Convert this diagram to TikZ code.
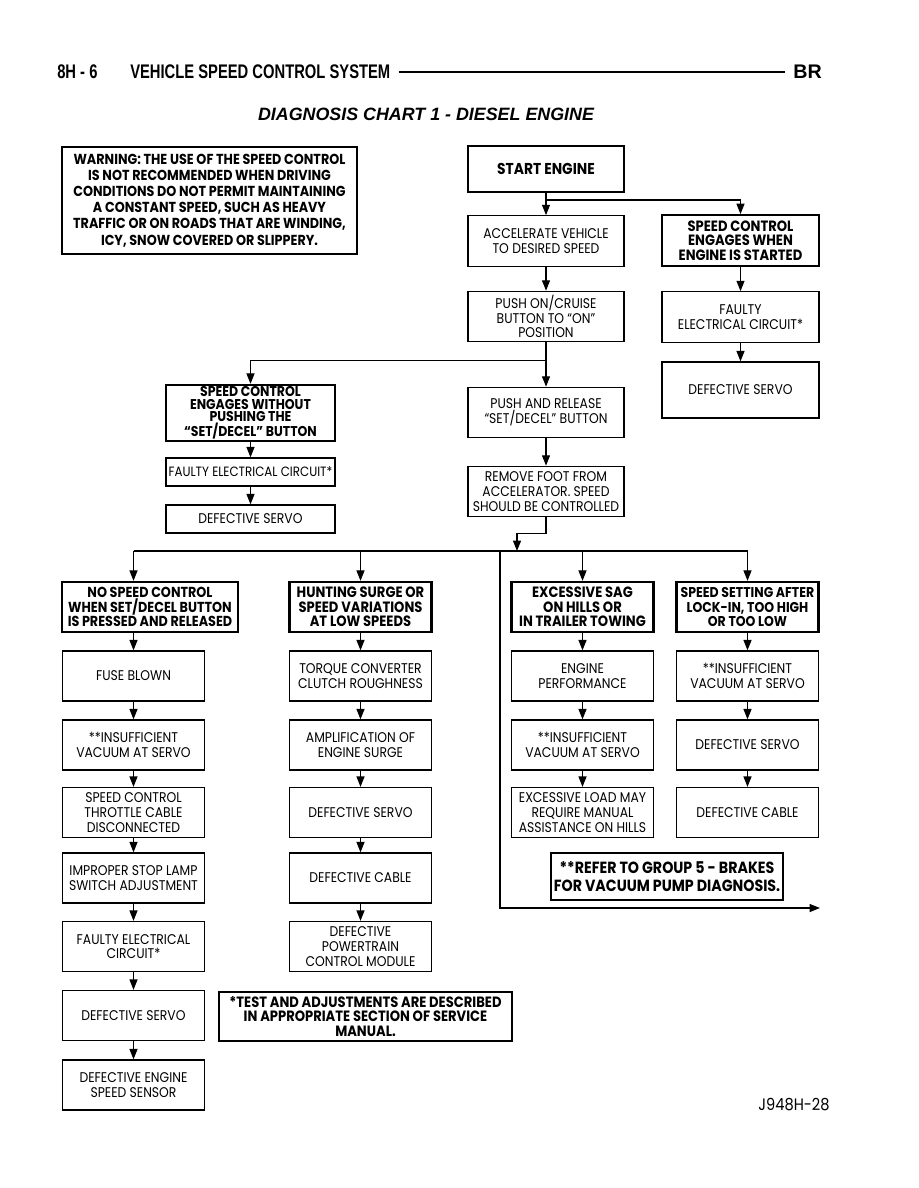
\documentclass[tikz,border=0pt]{standalone}
\usepackage{fontspec}
\setmainfont{Poppins}[FakeStretch=0.88]
\newfontfamily\headfont{Liberation Sans}[FakeStretch=0.75]
\newfontfamily\titlefont{Liberation Sans}
\usepackage{tikz}
\usetikzlibrary{positioning,arrows.meta,calc}
\tikzset{
  cause/.style  ={draw, line width=0.9pt, align=center, inner sep=0.5pt,
                  font=\fontsize{10}{10.4}\selectfont},
  symptom/.style={cause, line width=1.7pt, font=\bfseries\fontsize{10.6}{10.4}\selectfont},
  colbox/.style ={minimum width=35.5mm, minimum height=12.5mm},
  topbox/.style ={minimum width=39mm, minimum height=12.6mm},
  arr/.style    ={-{Triangle[length=2.6mm,width=2mm]}, line width=0.8pt},
  link/.style   ={line width=0.8pt},
}
\begin{document}
\begin{tikzpicture}[x=0.25mm,y=-0.25mm]
  \useasboundingbox (0,0) rectangle (918,1188);
  % --- page header ---
  \node[anchor=west,inner sep=0pt,font=\headfont\bfseries\fontsize{14}{15}\selectfont] (sec) at (57,72) {8H~-~6};
  \node[anchor=west,inner sep=0pt,font=\headfont\bfseries\fontsize{14}{15}\selectfont] (hdr) at (130,72) {VEHICLE SPEED CONTROL SYSTEM};
  \node[anchor=east,inner sep=0pt,font=\titlefont\bfseries\fontsize{14}{15}\selectfont] (br) at (822,72) {BR};
  \draw[line width=1.3pt,shorten <=2mm,shorten >=2mm] (hdr.east) -- (br.west);
  \node[font=\titlefont\bfseries\itshape\fontsize{12.7}{14}\selectfont] (title) at (426,114) {DIAGNOSIS CHART 1 - DIESEL ENGINE};
  % --- warning ---
  \node[cause,line width=1.1pt,font=\bfseries\fontsize{10.3}{11.5}\selectfont,minimum width=73.75mm,minimum height=26.75mm] (warn) at (209.5,200.5)
    {WARNING: THE USE OF THE SPEED CONTROL\\IS NOT RECOMMENDED WHEN DRIVING\\CONDITIONS DO NOT PERMIT MAINTAINING\\A CONSTANT SPEED, SUCH AS HEAVY\\TRAFFIC OR ON ROADS THAT ARE WINDING,\\ICY, SNOW COVERED OR SLIPPERY.};
  % --- top of chart ---
  \node[symptom,line width=1.4pt,font=\bfseries\fontsize{11.2}{12}\selectfont,minimum width=39mm,minimum height=11.5mm] (start) at (546,169) {START ENGINE};
  \node[cause,topbox] (accel) at (546,241) {ACCELERATE VEHICLE\\TO DESIRED SPEED};
  \node[cause,topbox] (pushon) at (546,316.5) {PUSH ON/CRUISE\\BUTTON TO ``ON''\\POSITION};
  \node[cause,topbox] (pushrel) at (546,412.5) {PUSH AND RELEASE\\``SET/DECEL'' BUTTON};
  \node[cause,topbox] (remove) at (546,491.5) {REMOVE FOOT FROM\\ACCELERATOR. SPEED\\SHOULD BE CONTROLLED};
  \node[symptom,topbox,minimum width=39.25mm] (engstart) at (740.5,240.5) {SPEED CONTROL\\ENGAGES WHEN\\ENGINE IS STARTED};
  \node[cause,topbox,minimum width=39.25mm] (faulty1) at (740.5,317) {FAULTY\\ELECTRICAL CIRCUIT*};
  \node[cause,minimum width=39.25mm,minimum height=14mm] (servo1) at (740.5,390) {DEFECTIVE SERVO};
  \node[symptom,font=\bfseries\fontsize{10.1}{8.9}\selectfont,minimum width=42.25mm,minimum height=14mm] (without) at (250.5,413) {SPEED CONTROL\\ENGAGES WITHOUT\\PUSHING THE\\``SET/DECEL'' BUTTON};
  \node[cause,font=\fontsize{9.6}{10.4}\selectfont,minimum width=42.25mm,minimum height=7mm] (faulty2) at (250.5,472) {FAULTY ELECTRICAL CIRCUIT*};
  \node[cause,minimum width=42.25mm,minimum height=7mm] (servo2) at (250.5,519) {DEFECTIVE SERVO};
  % --- four symptoms ---
  \node[symptom,font=\bfseries\fontsize{10.3}{10.4}\selectfont,minimum width=44mm,minimum height=12.5mm] (nospeed) at (150,607) {NO SPEED CONTROL\\WHEN SET/DECEL BUTTON\\IS PRESSED AND RELEASED};
  \node[symptom,colbox] (hunting) at (360.5,607) {HUNTING SURGE OR\\SPEED VARIATIONS\\AT LOW SPEEDS};
  \node[symptom,colbox] (sag) at (582.5,607) {EXCESSIVE SAG\\ON HILLS OR\\IN TRAILER TOWING};
  \node[symptom,colbox,font=\bfseries\fontsize{10.1}{10.4}\selectfont] (setting) at (747.5,607) {SPEED SETTING AFTER\\LOCK-IN, TOO HIGH\\OR TOO LOW};
  % column 1
  \node[cause,colbox] (fuse) at (133.5,676) {FUSE BLOWN};
  \node[cause,colbox] (insuf1) at (133.5,745) {**INSUFFICIENT\\VACUUM AT SERVO};
  \node[cause,colbox] (throttle) at (133.5,812.5) {SPEED CONTROL\\THROTTLE CABLE\\DISCONNECTED};
  \node[cause,colbox] (stoplamp) at (133.5,878) {IMPROPER STOP LAMP\\SWITCH ADJUSTMENT};
  \node[cause,colbox] (faulty3) at (133.5,946.5) {FAULTY ELECTRICAL\\CIRCUIT*};
  \node[cause,colbox] (servo3) at (133.5,1015.5) {DEFECTIVE SERVO};
  \node[cause,colbox] (sensor) at (133.5,1085) {DEFECTIVE ENGINE\\SPEED SENSOR};
  % column 2
  \node[cause,colbox] (torque) at (360.5,676) {TORQUE CONVERTER\\CLUTCH ROUGHNESS};
  \node[cause,colbox] (amplif) at (360.5,745) {AMPLIFICATION OF\\ENGINE SURGE};
  \node[cause,colbox] (servo4) at (360.5,812.5) {DEFECTIVE SERVO};
  \node[cause,colbox] (cable1) at (360.5,878) {DEFECTIVE CABLE};
  \node[cause,colbox] (pcm) at (360.5,946.5) {DEFECTIVE\\POWERTRAIN\\CONTROL MODULE};
  % column 3
  \node[cause,colbox] (engperf) at (582.5,676) {ENGINE\\PERFORMANCE};
  \node[cause,colbox] (insuf2) at (582.5,745) {**INSUFFICIENT\\VACUUM AT SERVO};
  \node[cause,colbox] (load) at (582.5,812.5) {EXCESSIVE LOAD MAY\\REQUIRE MANUAL\\ASSISTANCE ON HILLS};
  % column 4
  \node[cause,colbox] (insuf3) at (747.5,676) {**INSUFFICIENT\\VACUUM AT SERVO};
  \node[cause,colbox] (servo5) at (747.5,745) {DEFECTIVE SERVO};
  \node[cause,colbox] (cable2) at (747.5,812.5) {DEFECTIVE CABLE};
  % notes
  \node[symptom,font=\bfseries\fontsize{11.5}{12.6}\selectfont,minimum width=58mm,minimum height=11.75mm] (refer) at (667,876.5) {**REFER TO GROUP 5 - BRAKES\\FOR VACUUM PUMP DIAGNOSIS.};
  \node[symptom,line width=1.3pt,minimum width=73.25mm,minimum height=12.25mm] (testnote) at (365.5,1016.5) {*TEST AND ADJUSTMENTS ARE DESCRIBED\\IN APPROPRIATE SECTION OF SERVICE\\MANUAL.};
  \node[font=\fontsize{11.8}{13}\selectfont] (fig) at (794,1105) {J948H-28};
  % --- connectors ---
  \draw[arr] (start) -- (accel);
  \draw[arr] (start.south) -- ++(0,7) -| (engstart.north);
  \draw[arr] (accel) -- (pushon);
  \draw[arr] (pushon) -- (pushrel);
  \draw[arr] (pushon.south) -- ++(0,18) -| (without.north);
  \draw[arr] (pushrel) -- (remove);
  \foreach \a/\b in {engstart/faulty1,faulty1/servo1,without/faulty2,faulty2/servo2}
    \draw[arr] (\a) -- (\b);
  \coordinate (busL) at (133.5,551);
  \coordinate (busR) at (747.5,551);
  \coordinate (drop) at (517,551);
  \coordinate (loopTop) at (500,551);
  \coordinate (loopEnd) at (820,908);
  \draw[arr] (remove.south) -- ++(0,16) -| (drop);
  \draw[link] (busL) -- (busR);
  \draw[arr] (busL) -- (nospeed.north -| busL);
  \foreach \n in {hunting,sag,setting}
    \draw[arr] (\n |- busL) -- (\n.north);
  \draw[arr] (loopTop) |- (loopEnd);
  \draw[arr] (nospeed.south -| fuse) -- (fuse.north);
  \foreach \a/\b in {fuse/insuf1,insuf1/throttle,throttle/stoplamp,stoplamp/faulty3,faulty3/servo3,servo3/sensor,
                     hunting/torque,torque/amplif,amplif/servo4,servo4/cable1,cable1/pcm,
                     sag/engperf,engperf/insuf2,insuf2/load,
                     setting/insuf3,insuf3/servo5,servo5/cable2}
    \draw[arr] (\a) -- (\b);
\end{tikzpicture}
\end{document}
